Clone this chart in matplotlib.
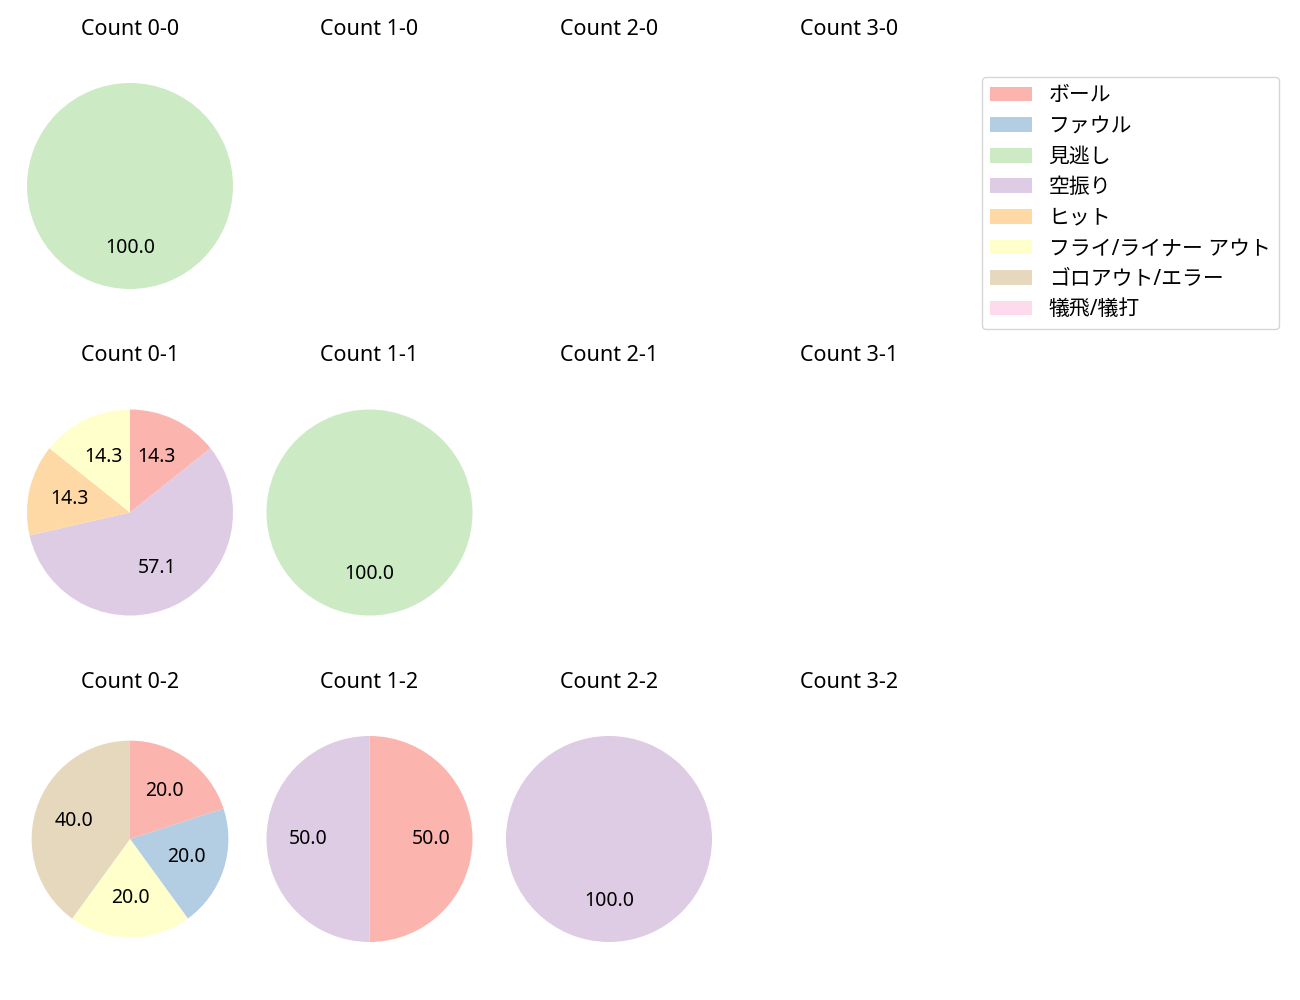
import matplotlib
matplotlib.use('Agg')
import matplotlib.pyplot as plt
from matplotlib.patches import Patch

plt.rcParams['font.family'] = ['Noto Sans', 'Noto Sans CJK JP', 'DejaVu Sans']
plt.rcParams['font.size'] = 15

# result categories (legend order) and Pastel1 colours
categories = ['ボール', 'ファウル', '見逃し', '空振り', 'ヒット',
              'フライ/ライナー アウト', 'ゴロアウト/エラー', '犠飛/犠打']
colors = ['#fbb4ae', '#b3cde3', '#ccebc5', '#decbe4', '#fed9a6',
          '#ffffcc', '#e5d8bd', '#fddaec']

balls = [0, 1, 2, 3]
strikes = [0, 1, 2]

# counts per category for each ball-strike count (missing = no pitches)
count_0_0 = [0, 0, 1, 0, 0, 0, 0, 0]
count_0_1 = [1, 0, 0, 4, 1, 1, 0, 0]
count_1_1 = [0, 0, 1, 0, 0, 0, 0, 0]
count_0_2 = [1, 1, 0, 0, 0, 1, 2, 0]
count_1_2 = [1, 0, 0, 1, 0, 0, 0, 0]
count_2_2 = [0, 0, 0, 1, 0, 0, 0, 0]

data = {
    (0, 0): count_0_0,
    (0, 1): count_0_1,
    (1, 1): count_1_1,
    (0, 2): count_0_2,
    (1, 2): count_1_2,
    (2, 2): count_2_2,
}

fig = plt.figure(figsize=(13, 10), dpi=100)
W, H = 1300, 1000
col_cx = [130, 369.5, 609, 849]
row_cy = [186, 512.5, 839]
ax_w, ax_h = 257.5, 286
radius = {(0, 2): 0.955}

for s in strikes:
    for b in balls:
        cx, cy = col_cx[b], row_cy[s]
        ax = fig.add_axes([(cx - ax_w / 2) / W, 1 - (cy + ax_h / 2) / H,
                           ax_w / W, ax_h / H])
        ax.set_title(f'Count {b}-{s}', fontsize=15.5)
        vals = data.get((b, s))
        if vals is None:
            ax.axis('off')
            continue
        v = [x for x in vals if x > 0]
        c = [colors[i] for i, x in enumerate(vals) if x > 0]
        ax.pie(v, colors=c, autopct='%.1f', startangle=90, counterclock=False,
               radius=radius.get((b, s), 1), textprops={'fontsize': 14})
        ax.set_aspect('auto')
        ax.set_xlim(-1.25, 1.25)
        ax.set_ylim(-1.25 * ax_h / ax_w, 1.25 * ax_h / ax_w)

handles = [Patch(facecolor=col) for col in colors]
fig.legend(handles, categories, loc='upper left', labelspacing=0.46,
           bbox_to_anchor=(982 / W, 1 - 77 / H), borderaxespad=0)

fig.savefig('out.png', dpi=100)
